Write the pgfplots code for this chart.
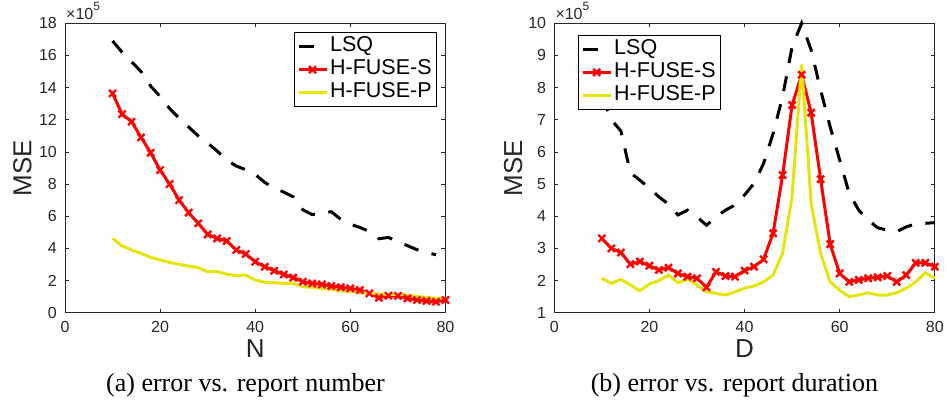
\documentclass[border=0pt]{standalone}
\usepackage{fontspec}
\setmainfont{Liberation Sans}
\newfontfamily\capfont{Liberation Serif}
\usepackage{pgfplots}
\usepackage{pgfplotstable}
\pgfplotsset{compat=1.18}

\definecolor{axgray}{rgb}{0.15,0.15,0.15}
\definecolor{hfp}{rgb}{0.90,0.90,0.05}

% MSE (x 10^5) against the number of reports N
\pgfplotstableread{
x lsq
10 16.9
12 16.2
14 15.6
16 15.0
18 14.1
20 13.45
22 12.7
24 12.1
26 11.55
28 11.0
30 10.55
32 10.05
34 9.5
36 9.12
38 8.9
40 8.6
42 8.1
44 7.75
46 7.5
48 7.2
50 6.4
52 6.1
54 6.2
56 6.28
58 5.8
60 5.5
62 5.3
64 5.05
66 4.6
68 4.68
70 4.42
72 4.17
74 3.92
76 3.75
78 3.6
}\lsqN

\pgfplotstableread{
x hs hp
10 13.64 4.62
12 12.35 4.15
14 11.88 3.90
16 10.90 3.69
18 9.95 3.44
20 8.87 3.28
22 8.00 3.13
24 7.00 3.01
26 6.22 2.90
28 5.56 2.80
30 4.87 2.55
32 4.62 2.55
34 4.46 2.40
36 3.90 2.30
38 3.65 2.34
40 3.17 2.03
42 2.86 1.89
44 2.61 1.87
46 2.38 1.82
48 2.18 1.82
50 1.93 1.62
52 1.82 1.58
54 1.76 1.51
56 1.66 1.45
58 1.58 1.37
60 1.51 1.31
62 1.41 1.26
64 1.20 1.20
66 0.93 1.16
68 1.06 1.14
70 1.04 1.14
72 0.89 1.10
74 0.79 1.00
76 0.73 0.95
78 0.68 0.89
80 0.79 0.93
}\hfuseN

% MSE (x 10^5) against the report duration D
\pgfplotstableread{
x lsq hs hp
10 7.70 3.31 2.07
12 7.00 3.00 1.91
14 6.65 2.87 2.04
16 5.35 2.51 1.86
18 5.12 2.59 1.68
20 4.87 2.46 1.89
22 4.60 2.33 2.00
24 4.38 2.40 2.17
26 4.04 2.22 1.93
28 4.19 2.12 2.04
30 3.98 2.07 1.86
32 3.72 1.79 1.65
34 3.98 2.27 1.60
36 4.19 2.14 1.55
38 4.35 2.12 1.65
40 4.66 2.31 1.76
42 5.02 2.43 1.83
44 5.64 2.66 1.96
46 6.57 3.47 2.17
48 7.72 5.28 2.85
50 9.27 7.46 4.62
52 10.00 8.40 8.72
54 9.17 7.22 4.40
56 7.92 5.15 2.84
58 6.78 3.13 1.96
60 5.75 2.22 1.70
62 4.71 1.96 1.50
64 4.19 2.02 1.55
66 3.88 2.07 1.62
68 3.64 2.10 1.55
70 3.57 2.14 1.55
72 3.52 1.96 1.62
74 3.67 2.17 1.76
76 3.76 2.55 1.96
78 3.78 2.55 2.24
80 3.80 2.43 2.07
}\durD

\pgfplotsset{
  matlab/.style={
    scale only axis,
    width=380.5pt, height=289.4pt,
    anchor=south west,
    xmin=0, xmax=80, xtick={0,20,...,80},
    axis line style={axgray, line width=0.8pt},
    every tick/.style={axgray, line width=0.8pt},
    major tick length=4pt,
    tick align=inside,
    tick pos=both,
    /pgf/number format/assume math mode=true,
    tick label style={font=\fontsize{16}{19}\selectfont, text=axgray},
    yticklabel style={inner sep=0pt, xshift=-8pt},
    xticklabel style={inner sep=0pt, yshift=-8pt},
    label style={font=\fontsize{26}{30}\selectfont, text=axgray},
    xlabel style={at={(axis description cs:0.5,-0.1254)}, anchor=center},
    clip=false,
    legend cell align=left,
    legend image code/.code={%
      \draw[mark repeat=2, mark phase=2, ##1]
        plot coordinates {(0pt,0pt) (14pt,0pt) (28pt,0pt)};},
    legend style={draw=black, line width=0.8pt, fill=white,
      font=\fontsize{21.5}{24}\selectfont,
      inner sep=2.5pt, row sep=0pt,
      nodes={inner sep=2pt, text height=14.5pt, text depth=4.5pt}},
  },
  lsq/.style={black, line width=3pt, dash pattern=on 15pt off 13.5pt, no marks},
  hs/.style={red, line width=3pt, mark=x, mark size=5pt,
    mark options={solid, line width=2.4pt}},
  hp/.style={hfp, line width=3pt, no marks},
}

\begin{document}
\begin{tikzpicture}
\path[use as bounding box] (0pt,0pt) rectangle (947pt,411pt);

\begin{axis}[matlab,
  at={(65pt,98.3pt)},
  ymin=0, ymax=18, ytick={0,2,...,18},
  xlabel={N}, ylabel={MSE},
  ylabel style={at={(axis description cs:-0.1116,0.5)}, anchor=center},
  legend style={at={(rel axis cs:1,1)}, anchor=north east,
    xshift=-9pt, yshift=-9pt},
]
\addplot[lsq] table[x=x, y=lsq] {\lsqN};
\addplot[hs] table[x=x, y=hs] {\hfuseN};
\addplot[hp] table[x=x, y=hp] {\hfuseN};
\legend{LSQ, H-FUSE-S, H-FUSE-P}
\node[anchor=base west, inner sep=0pt, text=axgray,
  font=\fontsize{16}{19}\selectfont]
  at ([xshift=1pt, yshift=3.5pt]rel axis cs:0,1)
  {×10\raisebox{0.55em}{\fontsize{12}{14}\selectfont 5}};
\end{axis}

\begin{axis}[matlab,
  at={(554.3pt,98.3pt)},
  ymin=1, ymax=10, ytick={1,...,10},
  xlabel={D}, ylabel={MSE},
  ylabel style={at={(axis description cs:-0.108,0.5)}, anchor=center},
  legend style={at={(rel axis cs:0,1)}, anchor=north west,
    xshift=24pt, yshift=-11.7pt},
]
\addplot[lsq] table[x=x, y=lsq] {\durD};
\addplot[hs] table[x=x, y=hs] {\durD};
\addplot[hp] table[x=x, y=hp] {\durD};
\legend{LSQ, H-FUSE-S, H-FUSE-P}
\node[anchor=base west, inner sep=0pt, text=axgray,
  font=\fontsize{16}{19}\selectfont]
  at ([xshift=1pt, yshift=3.5pt]rel axis cs:0,1)
  {×10\raisebox{0.55em}{\fontsize{12}{14}\selectfont 5}};
\end{axis}

\node[anchor=base, font=\capfont\fontsize{26}{30}\selectfont]
  at (245.5pt,19pt) {(a) error vs. report number};
\node[anchor=base, font=\capfont\fontsize{26}{30}\selectfont]
  at (734.5pt,19pt) {(b) error vs. report duration};
\end{tikzpicture}
\end{document}
